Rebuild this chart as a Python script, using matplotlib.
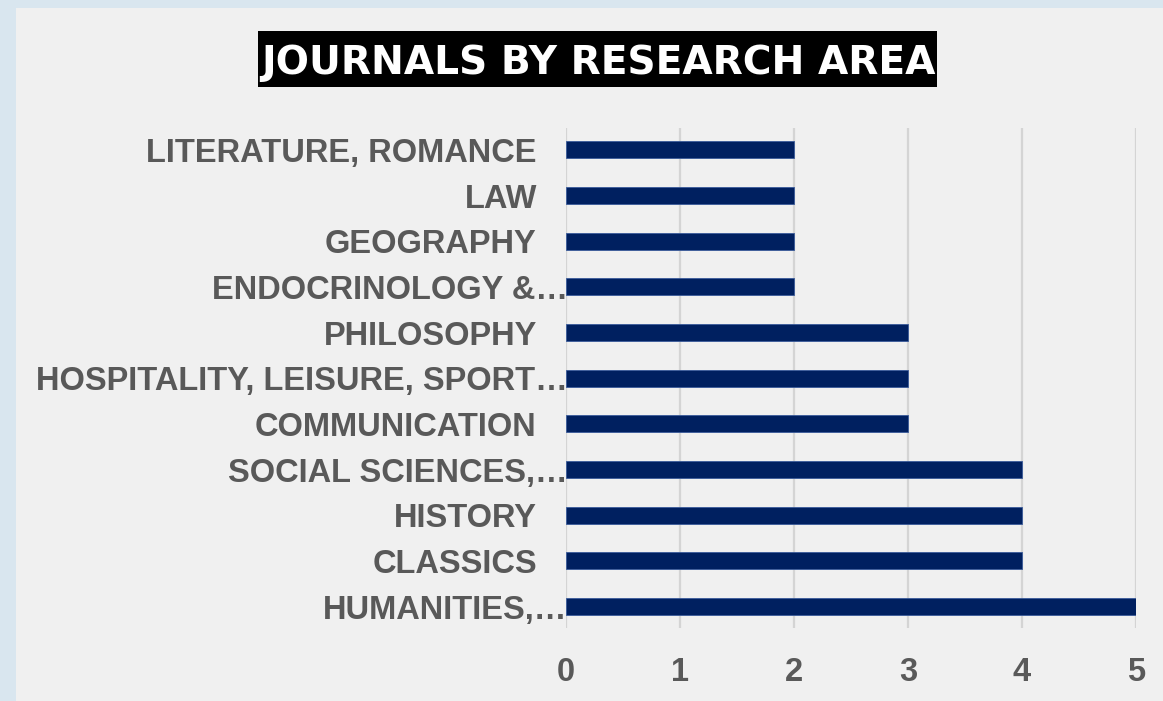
import matplotlib
matplotlib.use("Agg")
import matplotlib.pyplot as plt
import matplotlib.transforms as mtransforms
from matplotlib.patches import Rectangle

# research areas, bottom to top as drawn
areas = ["HUMANITIES,…", "CLASSICS", "HISTORY", "SOCIAL SCIENCES,…",
         "COMMUNICATION", "HOSPITALITY, LEISURE, SPORT…", "PHILOSOPHY",
         "ENDOCRINOLOGY &…", "GEOGRAPHY", "LAW", "LITERATURE, ROMANCE"]
journals = [5, 4, 4, 4, 3, 3, 3, 2, 2, 2, 2]
xticks = [0, 1, 2, 3, 4, 5]

W, H = 1163, 701
fig = plt.figure(figsize=(W / 100, H / 100), dpi=100)
fig.patch.set_facecolor("#d9e6ef")
fig.add_artist(Rectangle((16 / W, 0), 1, 1 - 8 / H, transform=fig.transFigure,
                         facecolor="#f0f0f0", edgecolor="none", zorder=-5))

ax = fig.add_axes([566 / W, 1 - 628 / H, (1136 - 566) / W, (628 - 128) / H])
ax.set_facecolor("none")
y = list(range(len(areas)))
ax.barh(y, journals, height=0.37, color="#002060", edgecolor="#3a5a9a", linewidth=0.6, zorder=3)

ax.set_xlim(0, 5)
ax.set_ylim(-0.47, 10.48)
ax.set_xticks(xticks)
ax.set_xticklabels([str(t) for t in xticks])
ax.set_yticks(y)
ax.set_yticklabels(areas)
ax.grid(axis="x", color="#d4d4d4", linewidth=1.6, zorder=1)
ax.grid(axis="y", visible=False)
for s in ax.spines.values():
    s.set_visible(False)
ax.tick_params(length=0)
ax.tick_params(axis="x", pad=21, labelsize=23.5, labelcolor="#595959")
ax.tick_params(axis="y", pad=21, labelsize=23.5, labelcolor="#595959")
for lab in ax.get_xticklabels() + ax.get_yticklabels():
    lab.set_fontfamily("Liberation Sans")
    lab.set_fontweight("bold")

# truncated labels run up to the axis
shift = mtransforms.ScaledTranslation(31 / 100, 0, fig.dpi_scale_trans)
for lab in ax.get_yticklabels():
    if lab.get_text().endswith("…"):
        lab.set_transform(lab.get_transform() + shift)

# title on a black band
fig.add_artist(Rectangle((258 / W, 1 - 87 / H), (937 - 258) / W, 56 / H,
                         transform=fig.transFigure, facecolor="black", edgecolor="none", zorder=2))
fig.text(598 / W, 1 - 59 / H, "JOURNALS BY RESEARCH AREA", ha="center", va="center_baseline",
         fontsize=28.2, fontweight="bold", family="DejaVu Sans", color="white", zorder=3)

fig.savefig("out.png", dpi=100, facecolor=fig.get_facecolor())
